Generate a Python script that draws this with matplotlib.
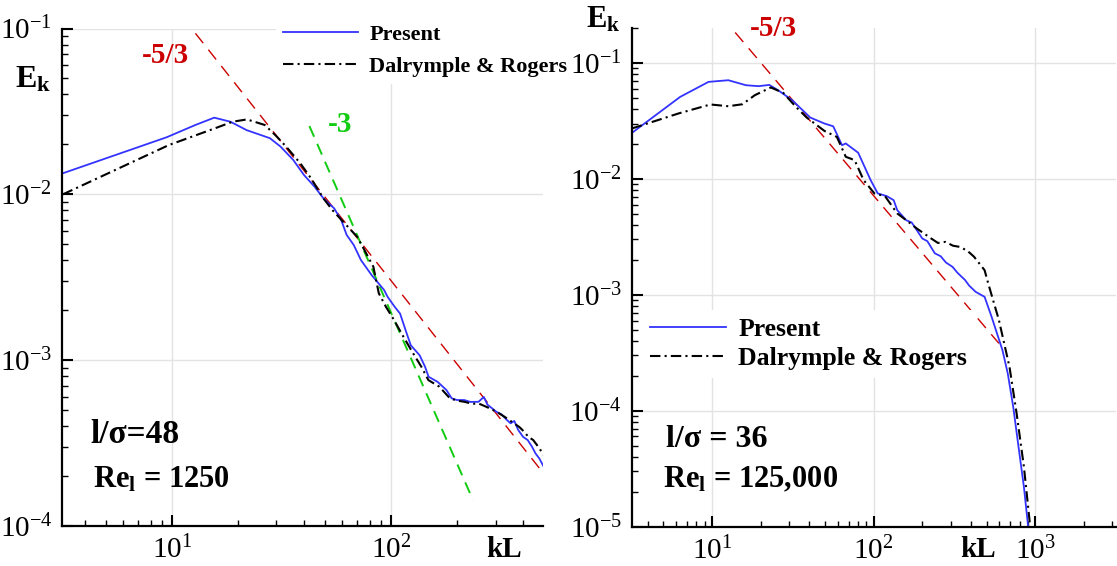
import matplotlib
matplotlib.use("Agg")
import matplotlib.pyplot as plt
from matplotlib.ticker import LogLocator, NullFormatter

plt.rcParams['font.family'] = 'Liberation Serif'
plt.rcParams['mathtext.fontset'] = 'custom'
plt.rcParams['mathtext.rm'] = 'Liberation Serif'
plt.rcParams['mathtext.it'] = 'Liberation Serif:italic'
plt.rcParams['mathtext.bf'] = 'Liberation Serif:bold'

# ---- data ----
# left panel (l/sigma = 48, Re_l = 1250)
k_left_present = [3.18, 9.47, 12.8, 15.6, 18.5, 21.9, 28.0, 31.3, 35.8, 40.0, 44.8, 49.1,
                  55.0, 59.2, 62.7, 67.6, 72.8, 81.5, 92.9, 96.4, 103.8, 109.9, 116.4, 123,
                  135, 142.9, 148.3, 162.8, 178.8, 189, 200, 215.7, 230, 250.6, 265, 275,
                  302, 320, 335, 351, 365, 380, 400, 420, 440, 456, 475, 497]
E_left_present = [0.0134, 0.0221, 0.0262, 0.0290, 0.0274, 0.0244, 0.0218, 0.0194, 0.0161,
                  0.0131, 0.0111, 0.00946, 0.00823, 0.0070, 0.00569, 0.00494, 0.00402,
                  0.00326, 0.00265, 0.00241, 0.0021, 0.00191, 0.00152, 0.00123, 0.00107,
                  0.000912, 0.000794, 0.000741, 0.000661, 0.000589, 0.000575, 0.000575,
                  0.000560, 0.000561, 0.000600, 0.000540, 0.000489, 0.000470, 0.000440,
                  0.000416, 0.000430, 0.000380, 0.000345, 0.000330, 0.000300, 0.000274,
                  0.000255, 0.000228]

k_left_dr = [3.18, 9.66, 15.7, 18.9, 22.0, 26.5, 29.6, 33.2, 38.5, 43.1, 49.1, 54.0, 60.4,
             70.0, 75.6, 83.0, 87.9, 94.7, 102, 114, 125, 137.5, 148, 166, 185.5, 200, 216,
             235, 250, 275, 302, 330, 364, 385, 405, 423, 445, 470, 497]
E_left_dr = [0.0100, 0.0198, 0.0250, 0.0274, 0.0283, 0.0262, 0.0228, 0.0194, 0.0154,
             0.0125, 0.00946, 0.00803, 0.00684, 0.00555, 0.00461, 0.00366, 0.00253, 0.0021,
             0.00179, 0.00138, 0.00112, 0.000912, 0.000758, 0.000692, 0.000589, 0.000570,
             0.000561, 0.000545, 0.000549, 0.000520, 0.000489, 0.000455, 0.000416,
             0.000395, 0.000370, 0.000345, 0.000330, 0.000300, 0.000268]

k_left_53 = [12.8, 497]
E_left_53 = [0.0935, 0.000207]
k_left_3 = [42.4, 236.6]
E_left_3 = [0.0258, 0.000143]

# right panel (l/sigma = 36, Re_l = 125,000)
k_right_present = [3.19, 6.34, 9.5, 12.6, 16.2, 19.4, 22.6, 25.6, 31.3, 40.5, 49.6, 56.2,
                   63.7, 67.2, 80.2, 95.8, 106, 120.5, 133, 140, 159, 172, 185, 200, 215,
                   239, 260, 280, 308, 330, 368, 390, 428, 486, 537, 627, 676, 731, 788,
                   851, 904, 915]
E_right_present = [0.0249, 0.0509, 0.0686, 0.0709, 0.0642, 0.063, 0.0646, 0.0582, 0.0477,
                   0.0338, 0.0300, 0.0284, 0.0195, 0.0202, 0.0168, 0.00975, 0.00749,
                   0.0071, 0.00655, 0.00537, 0.0044, 0.0042, 0.00361, 0.00306, 0.00290,
                   0.00228, 0.00215, 0.00190, 0.00174, 0.00155, 0.00134, 0.00120, 0.00106,
                   0.00096, 0.000646, 0.000333, 0.00021, 0.000108, 0.000049, 0.0000221,
                   0.00001, 0.000008]

k_right_dr = [3.19, 6.18, 9.76, 12.6, 15.4, 18.4, 23.1, 27.6, 33.0, 38.5, 49.6, 59.2, 67.2,
              76.2, 86.7, 101, 117.5, 140, 159, 185, 227, 250, 278, 310, 341, 380, 418,
              486, 512, 596, 693, 767, 851, 931, 940]
E_right_dr = [0.0272, 0.0366, 0.0438, 0.0423, 0.0440, 0.0527, 0.0614, 0.0551, 0.0418,
              0.0338, 0.0259, 0.0230, 0.0155, 0.0145, 0.00975, 0.00749, 0.0071, 0.00503,
              0.0044, 0.00373, 0.00306, 0.00280, 0.00286, 0.00265, 0.00259, 0.00240,
              0.00213, 0.00163, 0.00125, 0.000605, 0.000239, 0.0000949, 0.0000329,
              0.00001, 0.000008]

k_right_53 = [13.9, 596]
E_right_53 = [0.183, 0.000381]

W, H = 1117, 566
fig = plt.figure(figsize=(W / 100, H / 100), dpi=100)


def fx(x):
    return x / W


def fy(y):
    return 1 - y / H


ax1 = fig.add_axes([fx(62), fy(526), fx(543.3) - fx(62), fy(28.5) - fy(526)])
ax2 = fig.add_axes([fx(631.7), fy(526.7), fx(1116) - fx(631.7), fy(28) - fy(526.7)])

blue = '#3333ff'
red = '#cc0000'
green = '#11cc11'

for ax in (ax1, ax2):
    ax.set_xscale('log')
    ax.set_yscale('log')
    for s in ('top', 'right'):
        ax.spines[s].set_visible(False)
    for s in ('left', 'bottom'):
        ax.spines[s].set_linewidth(1.6)
    ax.tick_params(which='major', direction='in', length=8, width=1.5, labelsize=21,
                   top=False, right=False, pad=7)
    ax.tick_params(which='minor', direction='in', length=4.5, width=1.0,
                   top=False, right=False)
    ax.xaxis.set_minor_locator(LogLocator(base=10, subs=range(2, 10), numticks=20))
    ax.yaxis.set_minor_locator(LogLocator(base=10, subs=range(2, 10), numticks=20))
    ax.xaxis.set_minor_formatter(NullFormatter())
    ax.yaxis.set_minor_formatter(NullFormatter())
    ax.grid(True, which='major', color='#e3e3e3', linewidth=1.0)
    ax.set_axisbelow(True)

# left panel
ax1.plot(k_left_53, E_left_53, color=red, lw=1.0, dashes=(9, 6))
ax1.plot(k_left_3, E_left_3, color=green, lw=1.4, dashes=(6, 4))
ax1.plot(k_left_present, E_left_present, color=blue, lw=1.3, label='Present')
ax1.plot(k_left_dr, E_left_dr, color='black', lw=1.5, dashes=(5, 2, 1, 2),
         label='Dalrymple & Rogers')
ax1.set_xlim(3.15, 495)
ax1.set_ylim(1e-4, 1e-1)

# right panel
ax2.plot(k_right_53, E_right_53, color=red, lw=1.0, dashes=(9, 6))
ax2.plot(k_right_present, E_right_present, color=blue, lw=1.3, label='Present')
ax2.plot(k_right_dr, E_right_dr, color='black', lw=1.5, dashes=(5, 2, 1, 2),
         label='Dalrymple & Rogers')
ax2.set_xlim(3.18, 3162)
ax2.set_ylim(1e-5, 0.2)

legends = ((ax1, (276, 18), 16, 3.4, 0.5), (ax2, (642, 310), 18.5, 2.95, 0.25))
for ax, (lx, ly), size, hlen, lsp in legends:
    leg = ax.legend(loc='upper left', bbox_to_anchor=(fx(lx), fy(ly)),
                    bbox_transform=fig.transFigure,
                    prop={'family': 'Liberation Serif', 'weight': 'bold', 'size': size},
                    frameon=True, fancybox=False, borderpad=0.3, borderaxespad=0,
                    handlelength=hlen, handletextpad=0.5, labelspacing=lsp)
    leg.get_frame().set_facecolor('white')
    leg.get_frame().set_edgecolor('none')
    leg.get_frame().set_alpha(1)

# labels and annotations
fig.text(fx(15), fy(87), r'$\mathbf{E_k}$', fontsize=23)
fig.text(fx(586), fy(27), r'$\mathbf{E_k}$', fontsize=22)
fig.text(fx(486), fy(557), 'kL', fontsize=21, fontweight='bold')
fig.text(fx(960), fy(557), 'kL', fontsize=21, fontweight='bold')

fig.text(fx(142), fy(63), '-5/3', fontsize=21, fontweight='bold', color=red)
fig.text(fx(750), fy(36), '-5/3', fontsize=21, fontweight='bold', color=red)
fig.text(fx(328), fy(132), '-3', fontsize=21, fontweight='bold', color=green)

fig.text(fx(90), fy(443), 'l/σ=48', fontsize=24, fontweight='bold')
fig.text(fx(93), fy(487), r'Re$_\mathbf{l}$ = 1250', fontsize=22, fontweight='bold')
fig.text(fx(666), fy(447), 'l/σ = 36', fontsize=23, fontweight='bold')
fig.text(fx(663), fy(487), r'Re$_\mathbf{l}$ = 125,000', fontsize=22, fontweight='bold')

fig.savefig('out.png', dpi=100)
